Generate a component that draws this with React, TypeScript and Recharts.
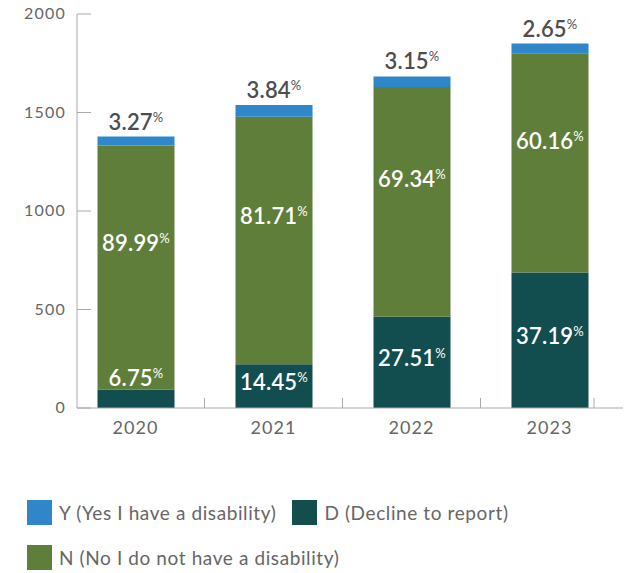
import { BarChart, Bar, XAxis, YAxis, LabelList, Legend } from 'recharts'

const YEARS = ['2020', '2021', '2022', '2023']
const YES = [45, 59, 53, 49]
const NO = [1240, 1257, 1167, 1113]
const DECLINE = [93, 222, 463, 688]
const YES_PCT = ['3.27', '3.84', '3.15', '2.65']
const NO_PCT = ['89.99', '81.71', '69.34', '60.16']
const DECLINE_PCT = ['6.75', '14.45', '27.51', '37.19']
const Y_TICKS = [0, 500, 1000, 1500, 2000]

const SERIES = [
  { key: 'y', label: 'Y (Yes I have a disability)', color: '#2f87c9' },
  { key: 'd', label: 'D (Decline to report)', color: '#124d4f' },
  { key: 'n', label: 'N (No I do not have a disability)', color: '#5f7e3a' },
]

const data = YEARS.map((year, i) => ({
  year,
  y: YES[i],
  n: NO[i],
  d: DECLINE[i],
  yPct: YES_PCT[i],
  nPct: NO_PCT[i],
  dPct: DECLINE_PCT[i],
}))

const FONT = 'Lato, "Open Sans", sans-serif'
const HALF_BAND = 69

function Pct({ x, y, value, fill }: any) {
  return (
    <text x={x} y={y} textAnchor="middle" fill={fill} fontFamily={FONT} fontSize={22} fontWeight={600} letterSpacing={0.2}>
      <tspan>{value}</tspan>
      <tspan fontSize={13} fontWeight={400} dy={-8}>%</tspan>
    </text>
  )
}

const TopLabel = (p: any) => <Pct x={p.x + p.width / 2} y={p.y - 7} value={p.value} fill="#4d4d4f" />
const MidLabel = (p: any) => <Pct x={p.x + p.width / 2} y={p.y + p.height * 0.4 + 8} value={p.value} fill="#fff" />
const LowLabel = (p: any) => {
  const small = p.height < 30
  return <Pct x={p.x + p.width / 2} y={small ? p.y - 4 : p.y + p.height / 2 + 4} value={p.value} fill="#fff" />
}

function YTick({ x, y, payload }: any) {
  return (
    <g>
      <line x1={x + 11} x2={x + 25} y1={y} y2={y} stroke="#aaa" />
      <text x={x} y={y + 5} textAnchor="end" fill="#666" fontFamily={FONT} fontSize={16} letterSpacing={1.2}>
        {payload.value}
      </text>
    </g>
  )
}

function XTick({ x, y, payload, index }: any) {
  const axisY = y - 8
  const tx = index === YEARS.length - 1 ? x + 44.5 : x + HALF_BAND
  return (
    <g>
      <line x1={tx} x2={tx} y1={axisY - 10} y2={axisY} stroke="#aaa" />
      <text x={x} y={y + 18} textAnchor="middle" fill="#666" fontFamily={FONT} fontSize={18} letterSpacing={1}>
        {payload.value}
      </text>
    </g>
  )
}

function LegendBox() {
  return (
    <div style={{ display: 'flex', flexWrap: 'wrap', paddingLeft: 27, rowGap: 20, height: 70, fontFamily: FONT }}>
      {SERIES.map(s => (
        <div key={s.key} style={{ display: 'flex', alignItems: 'center', marginRight: 16, height: 25 }}>
          <div style={{ width: 25, height: 25, background: s.color, marginRight: 7 }} />
          <span style={{ fontSize: 19, color: '#666', letterSpacing: 0.6 }}>{s.label}</span>
        </div>
      ))}
    </div>
  )
}

export default function App() {
  return (
    <div style={{ position: 'absolute', left: 0, top: 0 }}>
      <BarChart width={631} height={573} data={data} margin={{ top: 14, right: 8, left: 0, bottom: 55 }} barSize={77}>
        <XAxis
          dataKey="year"
          padding={{ left: -10.5, right: 4.5 }}
          axisLine={{ stroke: '#aaa' }}
          tickLine={false}
          tick={<XTick />}
          height={40}
          interval={0}
        />
        <YAxis
          width={77}
          domain={[0, 2000]}
          ticks={Y_TICKS}
          axisLine={{ stroke: '#aaa' }}
          tickLine={false}
          tickMargin={5}
          tick={<YTick />}
        />
        <Legend verticalAlign="bottom" wrapperStyle={{ bottom: 3, left: 0 }} content={() => <LegendBox />} />
        <Bar dataKey="d" stackId="a" fill="#124d4f" isAnimationActive={false}>
          <LabelList dataKey="dPct" content={LowLabel} />
        </Bar>
        <Bar dataKey="n" stackId="a" fill="#5f7e3a" isAnimationActive={false}>
          <LabelList dataKey="nPct" content={MidLabel} />
        </Bar>
        <Bar dataKey="y" stackId="a" fill="#2f87c9" isAnimationActive={false}>
          <LabelList dataKey="yPct" content={TopLabel} />
        </Bar>
      </BarChart>
    </div>
  )
}
